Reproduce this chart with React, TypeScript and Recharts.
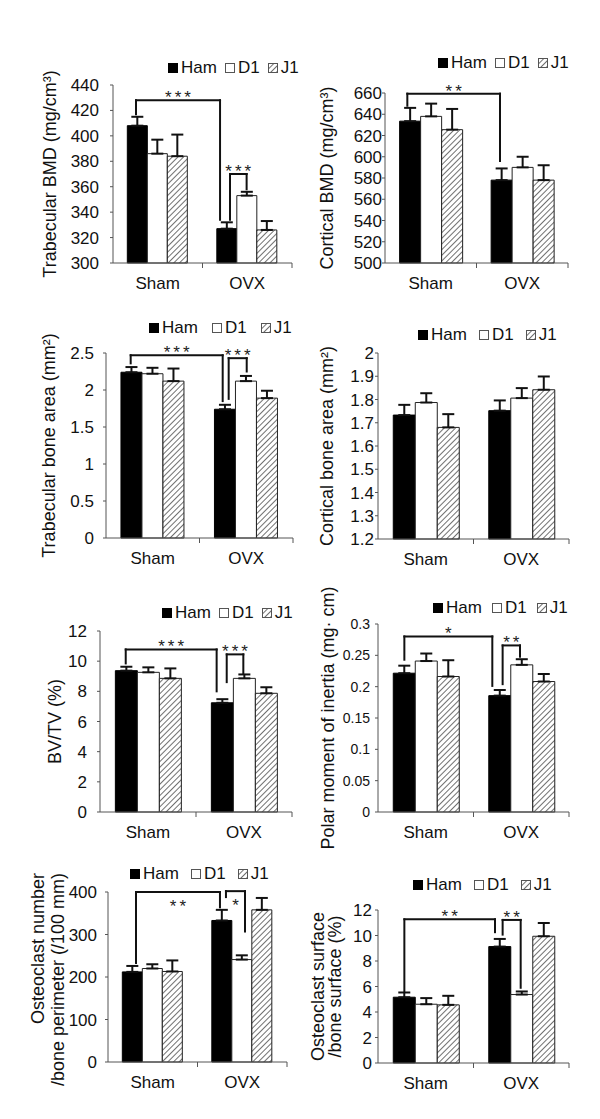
import React from 'react';
import { BarChart, Bar, XAxis, YAxis, ErrorBar, ReferenceLine, Legend } from 'recharts';

const groups = ['Sham', 'OVX'];
const seriesNames = ['Ham', 'D1', 'J1'];

// rows: Sham, OVX; columns: Ham, D1, J1
const trabBmdMean = [[408, 386, 384], [327, 353, 326]];
const trabBmdErr = [[7, 11, 17], [5, 3, 7]];
const trabBmdTicks = [300, 320, 340, 360, 380, 400, 420, 440];

const cortBmdMean = [[633.5, 638, 625.5], [578, 590, 578]];
const cortBmdErr = [[12.5, 12, 19.5], [11, 10, 14]];
const cortBmdTicks = [500, 520, 540, 560, 580, 600, 620, 640, 660];

const trabAreaMean = [[2.24, 2.22, 2.12], [1.74, 2.12, 1.89]];
const trabAreaErr = [[0.07, 0.08, 0.17], [0.06, 0.07, 0.1]];
const trabAreaTicks = [0, 0.5, 1, 1.5, 2, 2.5];

const cortAreaMean = [[1.733, 1.787, 1.68], [1.752, 1.806, 1.842]];
const cortAreaErr = [[0.044, 0.04, 0.057], [0.044, 0.043, 0.057]];
const cortAreaTicks = [1.2, 1.3, 1.4, 1.5, 1.6, 1.7, 1.8, 1.9, 2];

const bvtvMean = [[9.37, 9.26, 8.86], [7.24, 8.86, 7.87]];
const bvtvErr = [[0.26, 0.33, 0.66], [0.24, 0.26, 0.4]];
const bvtvTicks = [0, 2, 4, 6, 8, 10, 12];

const polarMean = [[0.2215, 0.2409, 0.2162], [0.1857, 0.2348, 0.2082]];
const polarErr = [[0.012, 0.012, 0.026], [0.009, 0.009, 0.012]];
const polarTicks = [0, 0.05, 0.1, 0.15, 0.2, 0.25, 0.3];

const ocNumMean = [[212, 220, 213], [333, 241, 358]];
const ocNumErr = [[14, 10, 26], [25, 10, 28]];
const ocNumTicks = [0, 100, 200, 300, 400];

const ocSurfMean = [[5.16, 4.61, 4.56], [9.13, 5.37, 9.94]];
const ocSurfErr = [[0.37, 0.48, 0.71], [0.6, 0.24, 1.04]];
const ocSurfTicks = [0, 2, 4, 6, 8, 10, 12];

const FONT = '"Liberation Sans", Arial, Helvetica, sans-serif';
const AXIS = '#555';
const CAT_MARGIN = 14;

// x positions are in "category units": 0..1 is Sham, 1..2 is OVX
type Bracket = { x1: number; x2: number; y: number; y1: number; y2: number; text: string; below?: boolean };

const YLabel = (props: any) => {
  const { viewBox, lines, offsets, anchor, anchorY } = props;
  const right = viewBox.x + viewBox.width;
  const cy = anchor === 'end' ? viewBox.y + anchorY : viewBox.y + viewBox.height / 2;
  return (
    <g>
      {lines.map((t: string, i: number) => {
        const lx = right - offsets[i];
        return (
          <text
            key={i}
            x={lx}
            y={cy}
            transform={`rotate(-90 ${lx} ${cy})`}
            textAnchor={anchor}
            dominantBaseline="central"
            fontSize={18}
            fill="#111"
          >
            {t}
          </text>
        );
      })}
    </g>
  );
};

// category label plus the small boundary tick at the right edge of each band
const CatTick = (props: any) => {
  const { x, y, payload, band } = props;
  const axisY = y - CAT_MARGIN;
  return (
    <g>
      <text x={x} y={y} dy="0.71em" textAnchor="middle" fontSize={17} fill="#111">
        {payload.value}
      </text>
      <line x1={x + band / 2} y1={axisY} x2={x + band / 2} y2={axisY + 5} stroke={AXIS} />
    </g>
  );
};

const LegendBox = ({ hatchId, gap }: { hatchId: string; gap: number }) => (
  <div style={{ display: 'flex', alignItems: 'center', fontSize: 17, color: '#111', whiteSpace: 'nowrap', lineHeight: '18px' }}>
    {seriesNames.map((n, i) => (
      <span key={n} style={{ display: 'flex', alignItems: 'center', marginRight: i < 2 ? gap : 0 }}>
        <svg width={10} height={10} style={{ marginRight: 3 }}>
          <rect
            x={0.5}
            y={0.5}
            width={9}
            height={9}
            fill={i === 0 ? '#000' : i === 1 ? '#fff' : `url(#${hatchId})`}
            stroke={i === 0 ? '#000' : '#555'}
          />
        </svg>
        {n}
      </span>
    ))}
  </div>
);

type PanelProps = {
  id: string;
  left: number;
  top: number;
  h: number;
  plot: { l: number; t: number; r: number; b: number };
  domain: [number, number];
  ticks: number[];
  mean: number[][];
  err: number[][];
  label: string[];
  labelOffsets: number[];
  labelAnchor?: 'middle' | 'end';
  labelAnchorY?: number;
  tickGap: number;
  tickFont?: number;
  legend: { x: number; y: number; gap?: number };
  brackets: Bracket[];
};

const Panel = (p: PanelProps) => {
  const w = 300;
  const xh = 30;
  const hatchId = `hatch-${p.id}`;
  const band = (p.plot.r - p.plot.l) / groups.length;
  const data = groups.map((g, i) => ({
    name: g,
    ham: p.mean[i][0],
    d1: p.mean[i][1],
    j1: p.mean[i][2],
    hamErr: [0, p.err[i][0]],
    d1Err: [0, p.err[i][1]],
    j1Err: [0, p.err[i][2]],
  }));
  const margin = { top: p.plot.t - p.top, right: p.left + w - p.plot.r, left: 0, bottom: p.top + p.h - p.plot.b - xh };

  // category of a bracket end, and its pixel offset from that category's centre
  const catIdx = (u: number) => Math.min(groups.length - 1, Math.floor(u));
  const cat = (u: number) => groups[catIdx(u)];
  const off = (u: number) => (u - catIdx(u) - 0.5) * band;

  const lineStyle = { stroke: '#111', strokeWidth: 2, strokeLinecap: 'square' as const };

  return (
    <div style={{ position: 'absolute', left: p.left, top: p.top }}>
      <BarChart width={w} height={p.h} data={data} margin={margin} barCategoryGap="16%" barGap={0}>
        <defs>
          <pattern id={hatchId} patternUnits="userSpaceOnUse" width={4} height={4} patternTransform="rotate(45)">
            <rect width={4} height={4} fill="#fff" />
            <line x1={0} y1={0} x2={0} y2={4} stroke="#333" strokeWidth={1.4} />
          </pattern>
        </defs>
        <XAxis
          dataKey="name"
          axisLine={{ stroke: AXIS }}
          tickLine={false}
          tickSize={0}
          tickMargin={CAT_MARGIN}
          tick={<CatTick band={band} />}
          height={xh}
        />
        <YAxis
          width={p.plot.l - p.left}
          domain={p.domain}
          ticks={p.ticks}
          interval={0}
          tickSize={3}
          tickMargin={Math.max(0, p.tickGap - 3)}
          axisLine={{ stroke: AXIS }}
          tickLine={{ stroke: AXIS }}
          tick={{ fill: '#111', fontSize: p.tickFont ?? 17 }}
          label={<YLabel lines={p.label} offsets={p.labelOffsets} anchor={p.labelAnchor ?? 'middle'} anchorY={p.labelAnchorY ?? 0} />}
        />
        <Legend
          layout="vertical"
          align="center"
          verticalAlign="middle"
          wrapperStyle={{ left: p.legend.x - p.left, top: p.legend.y - p.top - 9, width: 'auto', height: 'auto' }}
          content={() => <LegendBox hatchId={hatchId} gap={p.legend.gap ?? 12} />}
        />
        <Bar dataKey="ham" fill="#000" stroke="#000" isAnimationActive={false}>
          <ErrorBar dataKey="hamErr" width={6} strokeWidth={2} stroke="#111" direction="y" />
        </Bar>
        <Bar dataKey="d1" fill="#fff" stroke="#222" isAnimationActive={false}>
          <ErrorBar dataKey="d1Err" width={6} strokeWidth={2} stroke="#111" direction="y" />
        </Bar>
        <Bar dataKey="j1" fill={`url(#${hatchId})`} stroke="#222" isAnimationActive={false}>
          <ErrorBar dataKey="j1Err" width={6} strokeWidth={2} stroke="#111" direction="y" />
        </Bar>
        {p.brackets.flatMap((b, k) => [
          <ReferenceLine
            key={`h${k}`}
            ifOverflow="visible"
            segment={[{ x: cat(b.x1), y: b.y }, { x: cat(b.x2), y: b.y }]}
            shape={(s: any) => {
              const xa = s.x1 + off(b.x1);
              const xb = s.x2 + off(b.x2);
              return (
                <g>
                  <line x1={xa} y1={s.y1} x2={xb} y2={s.y2} {...lineStyle} />
                  <text
                    x={(xa + xb) / 2 + 1.5}
                    y={s.y1 + (b.below ? 20 : 3)}
                    textAnchor="middle"
                    fontSize={17}
                    letterSpacing={3}
                    fill="#222"
                  >
                    {b.text}
                  </text>
                </g>
              );
            }}
          />,
          <ReferenceLine
            key={`l${k}`}
            ifOverflow="visible"
            segment={[{ x: cat(b.x1), y: b.y }, { x: cat(b.x1), y: b.y1 }]}
            shape={(s: any) => <line x1={s.x1 + off(b.x1)} y1={s.y1} x2={s.x2 + off(b.x1)} y2={s.y2} {...lineStyle} />}
          />,
          <ReferenceLine
            key={`r${k}`}
            ifOverflow="visible"
            segment={[{ x: cat(b.x2), y: b.y }, { x: cat(b.x2), y: b.y2 }]}
            shape={(s: any) => <line x1={s.x1 + off(b.x2)} y1={s.y1} x2={s.x2 + off(b.x2)} y2={s.y2} {...lineStyle} />}
          />,
        ])}
      </BarChart>
    </div>
  );
}

export default function App() {
  return (
    <div style={{ position: 'absolute', left: 0, top: 0, width: 600, height: 1119, background: '#fff', fontFamily: FONT }}>
      <Panel
        id="p1" left={0} top={40} h={260}
        plot={{ l: 113, t: 85, r: 292, b: 263 }}
        domain={[300, 440]} ticks={trabBmdTicks} mean={trabBmdMean} err={trabBmdErr}
        label={['Trabecular BMD (mg/cm³)']} labelOffsets={[63]} tickGap={14}
        legend={{ x: 168, y: 68, gap: 8 }}
        brackets={[
          { x1: 0.257, x2: 1.196, y: 428, y1: 417, y2: 334, text: '***' },
          { x1: 1.307, x2: 1.493, y: 370, y1: 334, y2: 358, text: '***' },
        ]}
      />
      <Panel
        id="p2" left={300} top={40} h={260}
        plot={{ l: 385, t: 93, r: 568, b: 263 }}
        domain={[500, 660]} ticks={cortBmdTicks} mean={cortBmdMean} err={cortBmdErr}
        label={['Cortical BMD (mg/cm³)']} labelOffsets={[58]} tickGap={3}
        legend={{ x: 438, y: 63, gap: 8 }}
        brackets={[{ x1: 0.244, x2: 1.257, y: 659.4, y1: 648, y2: 596, text: '**' }]}
      />
      <Panel
        id="p3" left={0} top={300} h={270}
        plot={{ l: 106, t: 353, r: 293, b: 538 }}
        domain={[0, 2.5]} ticks={trabAreaTicks} mean={trabAreaMean} err={trabAreaErr}
        label={['Trabecular bone area (mm²)']} labelOffsets={[57]} tickGap={12}
        legend={{ x: 149, y: 328, gap: 14 }}
        brackets={[
          { x1: 0.264, x2: 1.248, y: 2.47, y1: 2.36, y2: 1.85, text: '***' },
          { x1: 1.312, x2: 1.505, y: 2.43, y1: 1.88, y2: 2.25, text: '***' },
        ]}
      />
      <Panel
        id="p4" left={300} top={300} h={270}
        plot={{ l: 378, t: 353, r: 569, b: 539 }}
        domain={[1.2, 2]} ticks={cortAreaTicks} mean={cortAreaMean} err={cortAreaErr}
        label={['Cortical bone area (mm²)']} labelOffsets={[51]} tickGap={4}
        legend={{ x: 418, y: 335, gap: 12 }}
        brackets={[]}
      />
      <Panel
        id="p5" left={0} top={570} h={280}
        plot={{ l: 100, t: 631, r: 292, b: 812 }}
        domain={[0, 12]} ticks={bvtvTicks} mean={bvtvMean} err={bvtvErr}
        label={['BV/TV (%)']} labelOffsets={[45]} tickGap={13}
        legend={{ x: 162, y: 613, gap: 8 }}
        brackets={[
          { x1: 0.268, x2: 1.215, y: 10.78, y1: 9.85, y2: 8.0, text: '***' },
          { x1: 1.32, x2: 1.493, y: 10.45, y1: 8.61, y2: 9.17, text: '***' },
        ]}
      />
      <Panel
        id="p6" left={300} top={570} h={280}
        plot={{ l: 378, t: 624, r: 569, b: 812 }}
        domain={[0, 0.3]} ticks={polarTicks} mean={polarMean} err={polarErr}
        label={['Polar moment of inertia (mg· cm)']} labelOffsets={[50]} tickGap={8} tickFont={14}
        legend={{ x: 433, y: 608, gap: 10 }}
        brackets={[
          { x1: 0.276, x2: 1.197, y: 0.2802, y1: 0.243, y2: 0.2012, text: '*' },
          { x1: 1.305, x2: 1.487, y: 0.2658, y1: 0.204, y2: 0.2478, text: '**' },
        ]}
      />
      <Panel
        id="p7" left={0} top={850} h={269}
        plot={{ l: 108, t: 892, r: 287, b: 1062 }}
        domain={[0, 400]} ticks={ocNumTicks} mean={ocNumMean} err={ocNumErr}
        label={['Osteoclast number', '/bone perimeter (/100 mm)']} labelOffsets={[70, 50]}
        labelAnchor="end" labelAnchorY={-19} tickGap={11}
        legend={{ x: 130, y: 874, gap: 12 }}
        brackets={[
          { x1: 0.313, x2: 1.251, y: 400, y1: 233, y2: 364, text: '**', below: true },
          { x1: 1.318, x2: 1.531, y: 402, y1: 388, y2: 307, text: '*', below: true },
        ]}
      />
      <Panel
        id="p8" left={300} top={850} h={269}
        plot={{ l: 378, t: 910, r: 569, b: 1063 }}
        domain={[0, 12]} ticks={ocSurfTicks} mean={ocSurfMean} err={ocSurfErr}
        label={['Osteoclast surface', '/bone surface (%)']} labelOffsets={[60, 43]} tickGap={6}
        legend={{ x: 413, y: 885, gap: 12 }}
        brackets={[
          { x1: 0.276, x2: 1.225, y: 11.27, y1: 5.6, y2: 10.26, text: '**' },
          { x1: 1.305, x2: 1.494, y: 11.22, y1: 10.07, y2: 5.9, text: '**' },
        ]}
      />
    </div>
  );
}
